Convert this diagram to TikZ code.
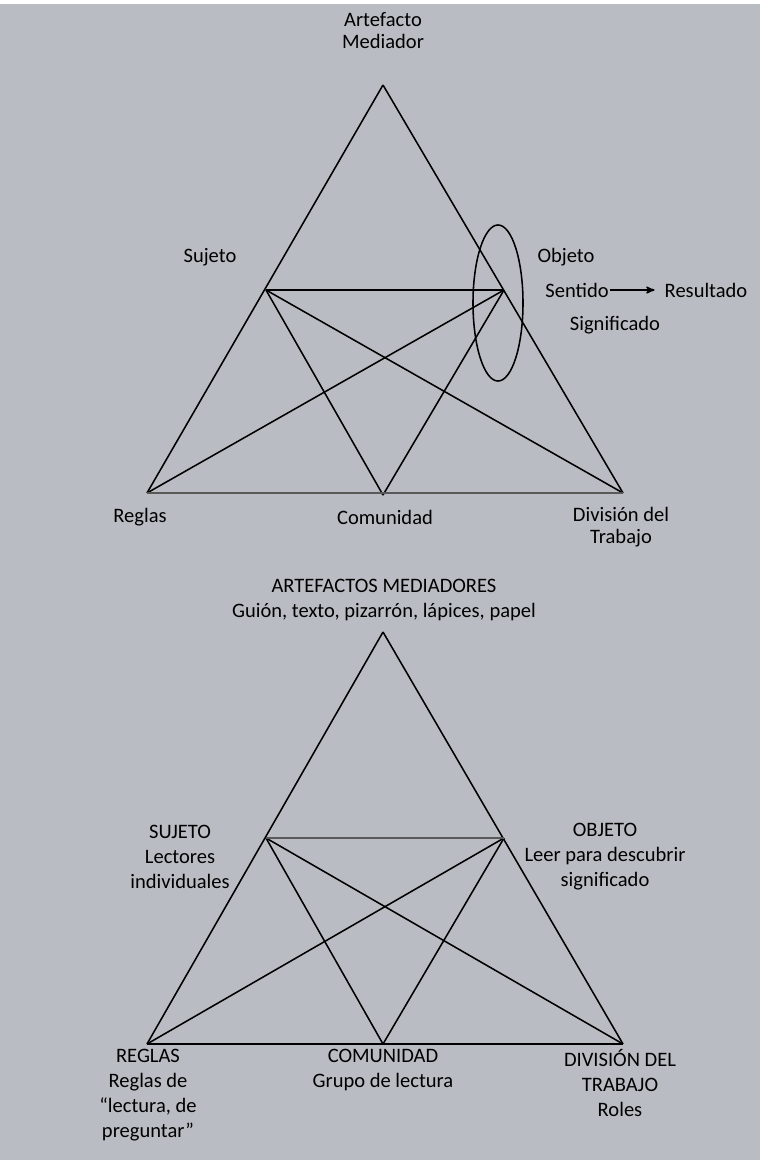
\documentclass[tikz,border=0pt]{standalone}
\usepackage{fontspec}
\setmainfont{Carlito}
\usetikzlibrary{arrows,positioning,shapes.geometric}
\definecolor{fondo}{HTML}{B9BDC3}
\tikzset{
    %Define standard arrow tip
    >=stealth',
    %Define style for labels
    etiq/.style={
           font=\fontsize{14.6}{17.8}\selectfont,
           align=center,
           inner sep=1pt},
    %Define style for triangle lines
    linea/.style={
           draw=black,
           line width=1.1pt},
    linbase/.style={
           draw=black!65,
           line width=1.9pt}
}
\begin{document}
\begin{tikzpicture}[x=0.025cm,y=-0.025cm]
\useasboundingbox (0,0) rectangle (760,1160);
\fill[fondo] (0,4) rectangle (760,1160);

 %vertices, first triangle
\coordinate (a1) at (383,85);
\coordinate (r1) at (147,493);
\coordinate (d1) at (623,493);
\coordinate (c1) at (383,495);
\coordinate (s1) at (266,290);
\coordinate (o1) at (504,290);

 %vertices, second triangle
\coordinate (a2) at (383,632);
\coordinate (r2) at (147,1044);
\coordinate (d2) at (623,1044);
\coordinate (c2) at (383,1044);
\coordinate (s2) at (266,838);
\coordinate (o2) at (504,838);

 %lines
\path[every edge/.style={linea}]
    (a1) edge (r1)
    (a1) edge (d1)
    (s1) edge (o1)
    (s1) edge (c1)
    (s1) edge (d1)
    (o1) edge (r1)
    (o1) edge (c1);
\draw[linbase] (r1) -- (d1);

\path[every edge/.style={linea}]
    (a2) edge (r2)
    (a2) edge (d2)
    (r2) edge (d2)
    (s2) edge (c2)
    (s2) edge (d2)
    (o2) edge (r2)
    (o2) edge (c2);
\draw[linbase] (s2) -- (o2);

\node[ellipse, draw, line width=1.1pt, minimum width=1.25cm,
      minimum height=3.9cm, inner sep=0pt] (elip) at (498,303) {};

 %labels, first triangle
\node[etiq, font=\fontsize{14.6}{15.6}\selectfont] (art1) at (383,31) {Artefacto\\Mediador};
\node[etiq] (suj1) at (210,257) {Sujeto};
\node[etiq] (obj1) at (566,257) {Objeto};
\node[etiq] (sent) at (577,290) {Sentido};
\node[etiq] (res) at (706,290) {Resultado};
\node[etiq] (sig) at (615,325) {Significado};
\node[etiq] (reg1) at (140,517) {Reglas};
\node[etiq] (com1) at (385,517) {Comunidad};
\node[etiq, font=\fontsize{14.6}{15.6}\selectfont] (div1) at (621,527) {Divisi\'on del\\Trabajo};

\draw[->, line width=1.1pt, shorten >=6pt] (sent) -- (res);

 %labels, second triangle
\node[etiq] (art2) at (384,600) {ARTEFACTOS MEDIADORES\\Gui\'on, texto, pizarr\'on, l\'apices, papel};
\node[etiq] (suj2) at (180,857) {SUJETO\\Lectores\\individuales};
\node[etiq] (obj2) at (605,857) {OBJETO\\Leer para descubrir\\significado};
\node[etiq] (reg2) at (148,1095) {REGLAS\\Reglas de\\“lectura, de\\preguntar”};
\node[etiq] (com2) at (383,1070) {COMUNIDAD\\Grupo de lectura};
\node[etiq] (div2) at (620,1083) {DIVISI\'ON DEL\\TRABAJO\\Roles};

\end{tikzpicture}
\end{document}
